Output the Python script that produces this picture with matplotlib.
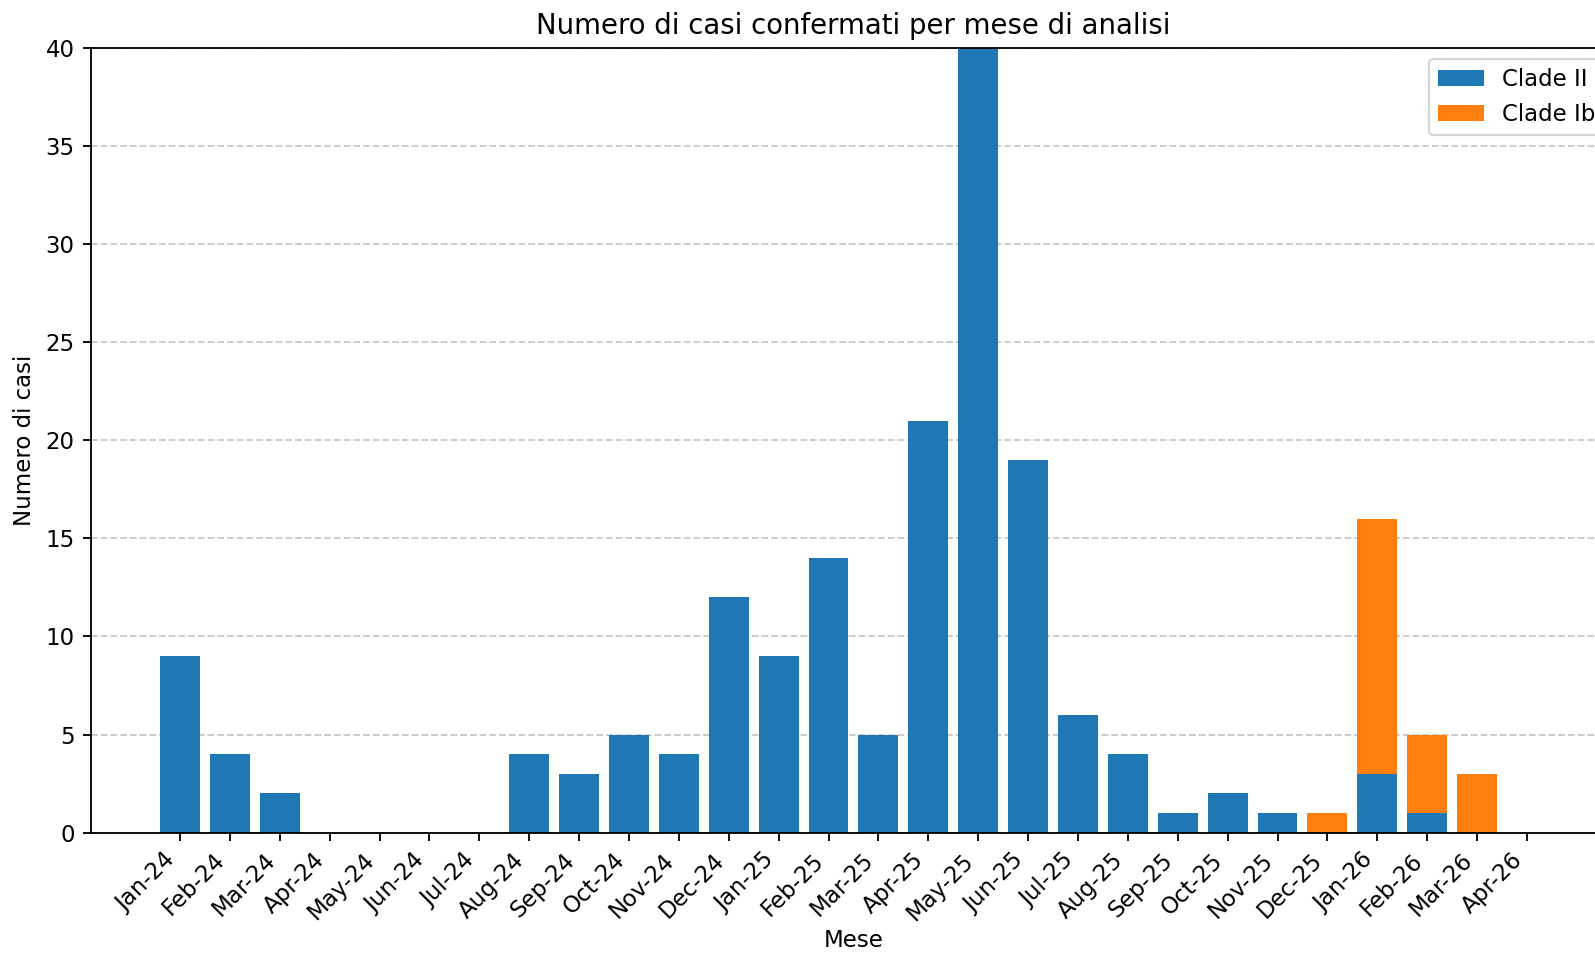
import numpy as np
import matplotlib
matplotlib.use('Agg')
import matplotlib.pyplot as plt

mesi = ['Jan-24', 'Feb-24', 'Mar-24', 'Apr-24', 'May-24', 'Jun-24', 'Jul-24',
        'Aug-24', 'Sep-24', 'Oct-24', 'Nov-24', 'Dec-24', 'Jan-25', 'Feb-25',
        'Mar-25', 'Apr-25', 'May-25', 'Jun-25', 'Jul-25', 'Aug-25', 'Sep-25',
        'Oct-25', 'Nov-25', 'Dec-25', 'Jan-26', 'Feb-26', 'Mar-26', 'Apr-26']
clade_ii = [9, 4, 2, 0, 0, 0, 0, 4, 3, 5, 4, 12, 9, 14, 5, 21, 40, 19, 6, 4, 1, 2, 1, 0, 3, 1, 0, 0]
clade_ib = [0, 0, 0, 0, 0, 0, 0, 0, 0, 0, 0, 0, 0, 0, 0, 0, 0, 0, 0, 0, 0, 0, 0, 1, 13, 4, 3, 0]

x = np.arange(len(mesi))
ii = np.array(clade_ii)
ib = np.array(clade_ib)

DPI = 165
fig = plt.figure(figsize=(1596/DPI, 953/DPI), dpi=DPI)
# the original image is cut on the right side, axes go past the edge
ax = fig.add_axes([0.0568, 0.1263, 0.9559, 0.8235])

ax.bar(x, ii, width=0.8, color='#1f77b4', label='Clade II')
ax.bar(x, ib, width=0.8, bottom=ii, color='#ff7f0e', label='Clade Ib')

ax.set_ylim(0, 40)
ax.set_xticks(x)
ax.set_xticklabels(mesi, rotation=45, ha='right')
ax.set_title('Numero di casi confermati per mese di analisi')
ax.set_xlabel('Mese', labelpad=2)
ax.set_ylabel('Numero di casi')
ax.yaxis.grid(True, linestyle='--', color='#bbbbbb', alpha=0.8)
ax.set_axisbelow(True)
ax.legend(loc='upper right')

fig.savefig('out.png', dpi=DPI)
